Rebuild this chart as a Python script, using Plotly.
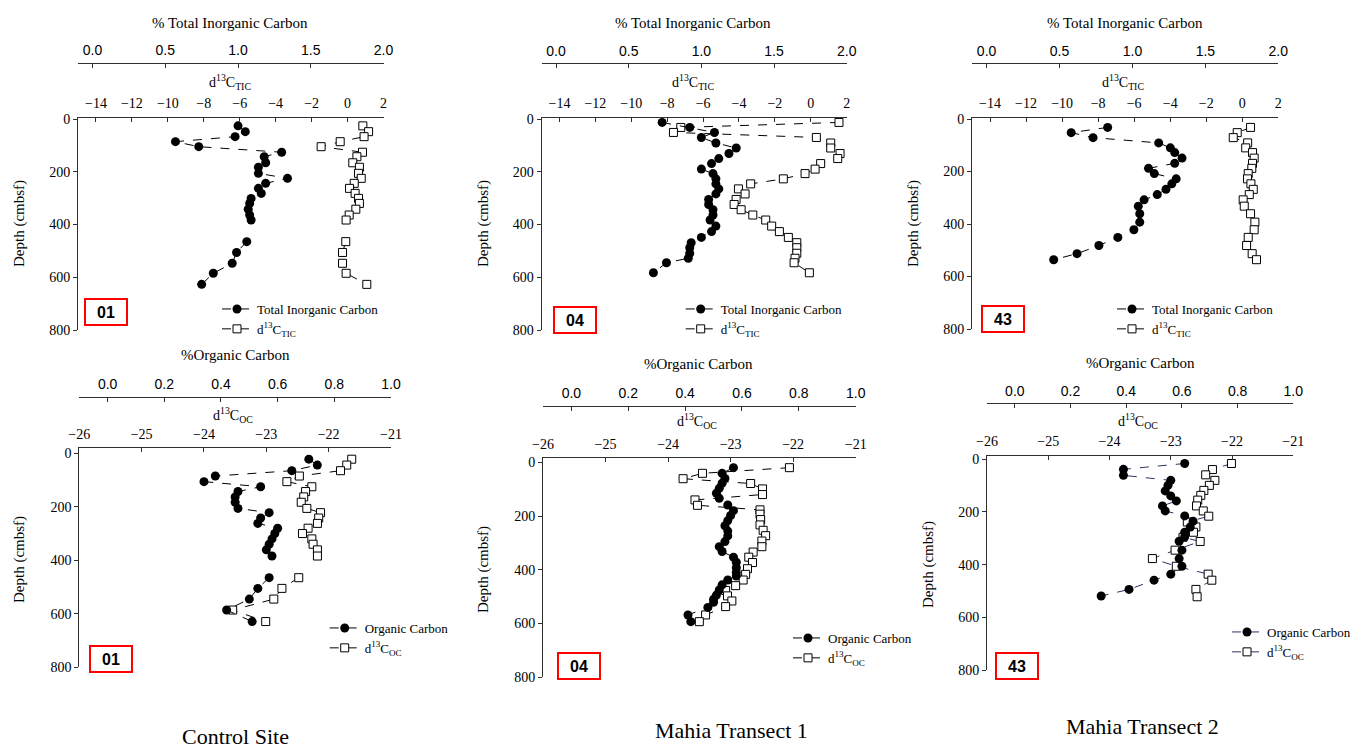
import plotly.graph_objects as go

W, H = 1357, 749

# ---------------- data ----------------
# Control Site, Total Inorganic Carbon
tl_depth = [26, 48, 67, 86, 105, 126, 143, 166, 183, 206, 225, 244, 263, 282, 301, 320, 342, 364, 383, None, 465, 506, 547, 585, 627]
tl_tic = [1.00, 1.05, 0.98, 0.57, 0.73, 1.30, 1.18, 1.19, 1.14, 1.14, 1.34, 1.19, 1.14, 1.16, 1.09, 1.08, 1.07, 1.08, 1.09, None, 1.06, 0.99, 0.96, 0.83, 0.75]
tl_d13c = [0.85, 1.17, 0.92, -0.41, -1.47, 0.83, 0.52, 0.29, 0.66, 0.61, 0.76, 0.37, 0.11, 0.42, 0.61, 0.66, 0.46, 0.09, -0.08, None, -0.10, -0.28, -0.28, -0.08, 1.07]

# Mahia Transect 1, Total Inorganic Carbon
tm_depth = [13, 32, 51, 70, 91, 110, 131, 150, 169, 190, 207, 227, 246, 265, 284, 305, 324, 344, 364, 383, 406, 427, 449, 469, 488, 509, 528, 545, 583]
tm_tic = [0.73, 0.92, 1.09, 1.00, 1.10, 1.24, 1.19, 1.12, 1.07, 1.00, 1.08, 1.10, 1.10, 1.12, 1.10, 1.05, 1.05, 1.08, 1.08, 1.06, 1.10, 1.07, 1.00, 0.93, 0.92, 0.92, 0.91, 0.76, 0.67]
tm_d13c = [1.57, -7.24, -7.65, 0.31, 1.11, 1.11, 1.63, 1.50, 0.55, 0.24, -0.32, -1.53, -3.35, -4.03, -3.66, -4.16, -4.27, -3.88, -3.23, -2.51, -2.18, -1.75, -1.25, -0.78, -0.78, -0.78, -0.88, -0.93, -0.08]

# Mahia Transect 2, Total Inorganic Carbon
tr_depth = [32, 52, 71, 91, 110, 128, 149, 169, 188, 208, 228, 247, 268, 288, 308, 332, 361, 393, 422, 451, 482, 513, 536]
tr_tic = [0.83, 0.58, 0.73, 1.18, 1.26, 1.29, 1.34, 1.29, 1.11, 1.15, 1.30, 1.27, 1.23, 1.17, 1.08, 1.04, 1.05, 1.05, 1.01, 0.90, 0.77, 0.62, 0.46]
tr_d13c = [0.46, -0.28, -0.50, 0.30, 0.19, 0.57, 0.66, 0.57, 0.53, 0.33, 0.29, 0.48, 0.61, 0.39, 0.05, 0.11, 0.46, 0.70, 0.66, 0.33, 0.24, 0.55, 0.79]

# Control Site, Organic Carbon
bl_depth = [22, 44, 65, 85, 106, 125, 143, 163, 183, 206, 222, 242, 262, 280, 300, 320, 340, 361, 384, None, 465, 505, 545, 586, 629]
bl_oc = [0.71, 0.74, 0.65, 0.38, 0.34, 0.54, 0.46, 0.45, 0.45, 0.46, 0.57, 0.54, 0.53, 0.60, 0.59, 0.58, 0.57, 0.56, 0.58, None, 0.57, 0.53, 0.50, 0.42, 0.51]
bl_d13c = [-21.63, -21.71, -21.81, -22.47, -22.67, -22.27, -22.37, -22.40, -22.44, -22.35, -22.13, -22.16, -22.18, -22.33, -22.42, -22.27, -22.25, -22.18, -22.18, None, -22.48, -22.75, -22.88, -23.54, -23.01]

# Mahia Transect 1, Organic Carbon
bm_depth_oc = [20, 41, 60, 78, 97, 115, 134, 159, 180, 198, 217, 236, 256, 274, 295, 314, 332, 353, 372, 392, 410, 423, 438, 456, 475, 494, 510, 521, 540, 568, 593]
bm_oc = [0.57, 0.53, 0.54, 0.53, 0.52, 0.51, 0.52, 0.55, 0.57, 0.56, 0.55, 0.54, 0.55, 0.55, 0.54, 0.52, 0.53, 0.57, 0.58, 0.58, 0.58, 0.58, 0.55, 0.53, 0.52, 0.51, 0.50, 0.50, 0.48, 0.41, 0.42]
bm_depth_d = [20, 41, 61, 79, 99, 120, 140, 160, 177, 193, 213, 233, 253, 273, 293, 314, 334, 353, 373, 396, 417, 438, 459, 477, 497, 516, 537, 568, 593]
bm_d13c = [-22.06, -23.45, -23.76, -22.68, -22.49, -22.49, -23.57, -23.53, -22.53, -22.53, -22.52, -22.53, -22.48, -22.44, -22.50, -22.50, -22.64, -22.71, -22.65, -22.73, -22.76, -22.80, -22.92, -23.08, -23.05, -22.98, -23.08, -23.40, -23.50]

# Mahia Transect 2, Organic Carbon
br_depth_oc = [16, 38, 61, 80, 99, 120, 139, 158, 177, 196, 215, 235, 257, 277, 294, 311, 345, 377, 406, 436, 459, 494, 519]
br_oc = [0.61, 0.39, 0.39, 0.56, 0.55, 0.54, 0.56, 0.58, 0.53, 0.54, 0.61, 0.64, 0.63, 0.61, 0.61, 0.59, 0.60, 0.59, 0.60, 0.56, 0.50, 0.41, 0.31]
br_depth_d = [16, 39, 59, 80, 99, 118, 137, 155, 177, 196, 216, 238, 257, 277, 296, 312, 345, 377, 406, 436, 459, 494, 522]
br_d13c = [-22.01, -22.32, -22.43, -22.28, -22.37, -22.46, -22.51, -22.56, -22.58, -22.47, -22.38, -22.73, -22.59, -22.63, -22.80, -22.52, -22.93, -23.30, -22.91, -22.39, -22.33, -22.59, -22.57]

depth_ticks = [0, 200, 400, 600, 800]
site_labels = ["01", "04", "43"]
captions = ["Control Site", "Mahia Transect 1", "Mahia Transect 2"]

# ---------------- layout helpers ----------------
SERIF = "Liberation Serif, Times New Roman, serif"
SANS = "Liberation Sans, Arial, sans-serif"
AX = "#303030"


def px(x):
    return x / W


def py(y):
    return 1 - y / H


panels = [
    dict(xL=78, xR=383.5, pctY=62.5, dY=117.5, y0=119, y800=330,
         drange=[-15, 2], ddtick=2, prange=[-0.1, 2.0], pdtick=0.5,
         circ=(tl_tic, tl_depth), sq=(tl_d13c, tl_depth),
         ptitle="% Total Inorganic Carbon", ptx=230, pty=23,
         dtitle="d<sup>13</sup>C<sub>TIC</sub>", dtx=230, dty=82,
         dep=(19, 224), box=(106, 312), lab=site_labels[0],
         leg=(258, 308), cname="Total Inorganic Carbon", sname="d<sup>13</sup>C<sub>TIC</sub>",
         lc="black"),
    dict(xL=541.5, xR=846.7, pctY=63.3, dY=117.5, y0=119, y800=330,
         drange=[-15, 2], ddtick=2, prange=[-0.1, 2.0], pdtick=0.5,
         circ=(tm_tic, tm_depth), sq=(tm_d13c, tm_depth),
         ptitle="% Total Inorganic Carbon", ptx=693, pty=23,
         dtitle="d<sup>13</sup>C<sub>TIC</sub>", dtx=693, dty=82,
         dep=(483, 224), box=(574.5, 319.5), lab=site_labels[1],
         leg=(721.7, 308), cname="Total Inorganic Carbon", sname="d<sup>13</sup>C<sub>TIC</sub>",
         lc="black"),
    dict(xL=972, xR=1278.3, pctY=63.3, dY=117.5, y0=119, y800=329,
         drange=[-15, 2], ddtick=2, prange=[-0.1, 2.0], pdtick=0.5,
         circ=(tr_tic, tr_depth), sq=(tr_d13c, tr_depth),
         ptitle="% Total Inorganic Carbon", ptx=1125, pty=23,
         dtitle="d<sup>13</sup>C<sub>TIC</sub>", dtx=1123, dty=82,
         dep=(913, 224), box=(1003, 318.5), lab=site_labels[2],
         leg=(1153, 308), cname="Total Inorganic Carbon", sname="d<sup>13</sup>C<sub>TIC</sub>",
         lc="black"),
    dict(xL=79.3, xR=391, pctY=396.7, dY=448.3, y0=453.3, y800=667.3,
         drange=[-26, -21], ddtick=1, prange=[-0.1, 1.0], pdtick=0.2,
         circ=(bl_oc, bl_depth), sq=(bl_d13c, bl_depth),
         ptitle="%Organic Carbon", ptx=235, pty=355,
         dtitle="d<sup>13</sup>C<sub>OC</sub>", dtx=233, dty=415,
         dep=(19, 560), box=(111, 658.5), lab=site_labels[0],
         leg=(365.7, 627), cname="Organic Carbon", sname="d<sup>13</sup>C<sub>OC</sub>",
         lc="black"),
    dict(xL=543, xR=855.7, pctY=406, dY=458.3, y0=462.3, y800=677.3,
         drange=[-26, -21], ddtick=1, prange=[-0.1, 1.0], pdtick=0.2,
         circ=(bm_oc, bm_depth_oc), sq=(bm_d13c, bm_depth_d),
         ptitle="%Organic Carbon", ptx=698, pty=364,
         dtitle="d<sup>13</sup>C<sub>OC</sub>", dtx=697, dty=421,
         dep=(483, 570), box=(578.5, 666), lab=site_labels[1],
         leg=(829, 637), cname="Organic Carbon", sname="d<sup>13</sup>C<sub>OC</sub>",
         lc="black"),
    dict(xL=987, xR=1293.3, pctY=403.3, dY=456, y0=459.3, y800=670,
         drange=[-26, -21], ddtick=1, prange=[-0.1, 1.0], pdtick=0.2,
         circ=(br_oc, br_depth_oc), sq=(br_d13c, br_depth_d),
         ptitle="%Organic Carbon", ptx=1140, pty=363,
         dtitle="d<sup>13</sup>C<sub>OC</sub>", dtx=1138, dty=421,
         dep=(928, 565), box=(1016.7, 666), lab=site_labels[2],
         leg=(1268, 631), cname="Organic Carbon", sname="d<sup>13</sup>C<sub>OC</sub>",
         lc="#2a3563"),
]

fig = go.Figure()
layout = dict(width=W, height=H,
              margin=dict(l=0, r=0, t=0, b=0, pad=0, autoexpand=False),
              paper_bgcolor="white", plot_bgcolor="white", showlegend=True)
annotations = []

for k, p in enumerate(panels, start=1):
    a = 2 * k - 1
    b = 2 * k
    xa = "x" if a == 1 else f"x{a}"
    xb = f"x{b}"
    ya = "y" if k == 1 else f"y{k}"
    xa_key = "xaxis" if a == 1 else f"xaxis{a}"
    xb_key = f"xaxis{b}"
    ya_key = "yaxis" if k == 1 else f"yaxis{k}"
    leg_key = "legend" if k == 1 else f"legend{k}"

    ppu = (p["y800"] - p["y0"]) / 800.0
    ymin = -(p["y0"] - p["dY"]) / ppu

    layout[ya_key] = dict(domain=[py(p["y800"]), py(p["dY"])], range=[800, ymin],
                          anchor=xa, tickvals=depth_ticks, ticks="outside", ticklen=4,
                          tickcolor=AX, showline=True, linecolor=AX, linewidth=1,
                          showgrid=False, zeroline=False, automargin=False,
                          tickfont=dict(family=SERIF, size=14, color="black"))
    layout[xa_key] = dict(domain=[px(p["xL"]), px(p["xR"])], anchor=ya, side="top",
                          range=p["drange"], dtick=p["ddtick"], tick0=0,
                          ticks="inside", ticklen=4, tickcolor=AX,
                          showline=True, linecolor=AX, linewidth=1,
                          showgrid=False, zeroline=False, ticklabelstandoff=3,
                          automargin=False,
                          tickfont=dict(family=SERIF, size=14, color="black"))
    layout[xb_key] = dict(overlaying=xa, anchor="free", position=py(p["pctY"]), side="top",
                          range=p["prange"], dtick=p["pdtick"], tick0=0, tickformat=".1f",
                          ticks="inside", ticklen=4, tickcolor=AX,
                          showline=True, linecolor=AX, linewidth=1,
                          showgrid=False, zeroline=False, ticklabelstandoff=2,
                          automargin=False,
                          tickfont=dict(family=SANS, size=14, color="black"))

    lx, ly = p["leg"]
    layout[leg_key] = dict(x=px(lx - 41), y=py(ly - 14), xanchor="left", yanchor="top",
                           bgcolor="rgba(0,0,0,0)", borderwidth=0, tracegroupgap=0,
                           itemwidth=30, traceorder="normal",
                           font=dict(family=SERIF, size=13, color="black"))

    cx, cy = p["circ"]
    fig.add_trace(go.Scatter(x=cx, y=cy, xaxis=xb, yaxis=ya, mode="lines+markers",
                             name=p["cname"], legend=leg_key,
                             line=dict(color=p["lc"], width=1, dash="dash"),
                             marker=dict(symbol="circle", size=9, color="black")))
    sx, sy = p["sq"]
    fig.add_trace(go.Scatter(x=sx, y=sy, xaxis=xa, yaxis=ya, mode="lines+markers",
                             name=p["sname"], legend=leg_key,
                             line=dict(color=p["lc"], width=1, dash="dash"),
                             marker=dict(symbol="square", size=8, color="white",
                                         line=dict(color="black", width=1))))

    annotations.append(dict(text=p["ptitle"], x=px(p["ptx"]), y=py(p["pty"]),
                            xref="paper", yref="paper", showarrow=False,
                            xanchor="center", yanchor="middle",
                            font=dict(family=SERIF, size=15, color="black")))
    annotations.append(dict(text=p["dtitle"], x=px(p["dtx"]), y=py(p["dty"]),
                            xref="paper", yref="paper", showarrow=False,
                            xanchor="center", yanchor="middle",
                            font=dict(family=SERIF, size=14, color="black")))
    annotations.append(dict(text="Depth (cmbsf)", x=px(p["dep"][0]), y=py(p["dep"][1]),
                            xref="paper", yref="paper", showarrow=False, textangle=-90,
                            xanchor="center", yanchor="middle",
                            font=dict(family=SERIF, size=15, color="black")))
    annotations.append(dict(text="<b>" + p["lab"] + "</b>", x=px(p["box"][0]), y=py(p["box"][1]),
                            xref="paper", yref="paper", showarrow=False,
                            xanchor="center", yanchor="middle", width=40, height=24,
                            bordercolor="#ff0000", borderwidth=2, borderpad=0,
                            bgcolor="white",
                            font=dict(family=SANS, size=16, color="black")))

cap_pos = [(235, 736), (731, 730), (1142, 726)]
for txt, (cx_, cy_) in zip(captions, cap_pos):
    annotations.append(dict(text=txt, x=px(cx_), y=py(cy_), xref="paper", yref="paper",
                            showarrow=False, xanchor="center", yanchor="middle",
                            font=dict(family=SERIF, size=22, color="black")))

layout["annotations"] = annotations
fig.update_layout(**layout)
fig.write_html("out.html")
